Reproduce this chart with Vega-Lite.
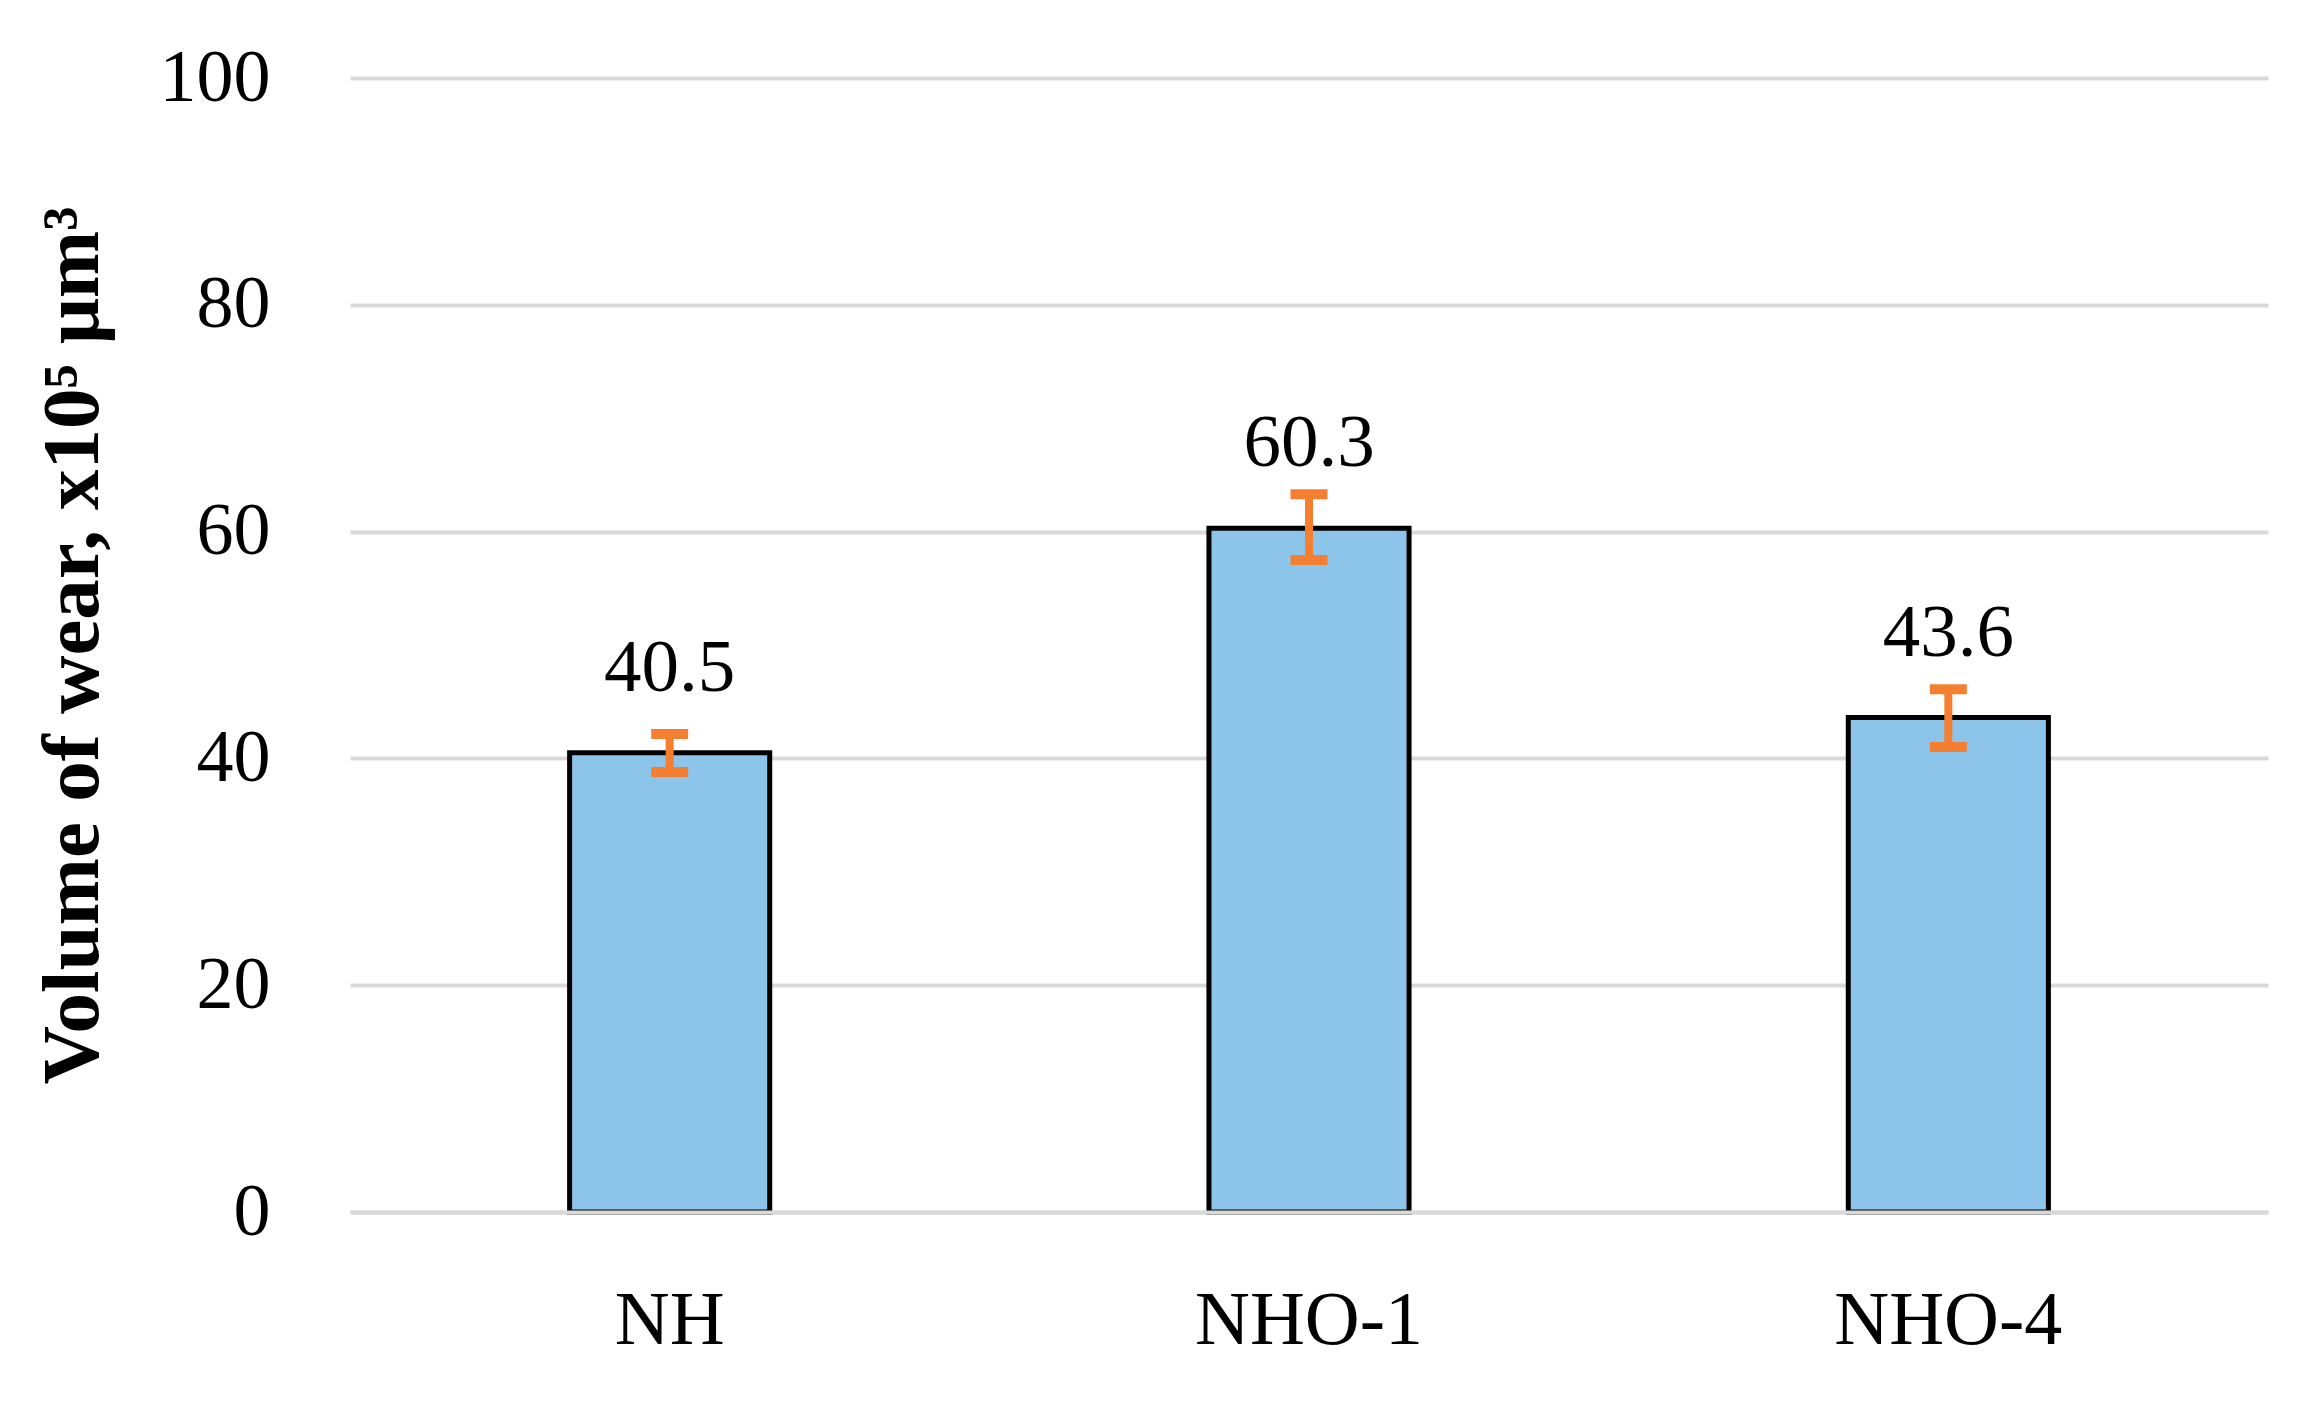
{
  "$schema": "https://vega.github.io/schema/vega-lite/v6.json",
  "autosize": {"type": "none"},
  "width": 1918,
  "height": 1134,
  "padding": {"left": 350, "top": 78, "right": 51, "bottom": 201},
  "background": "white",
  "config": {
    "view": {"stroke": null},
    "font": "Liberation Serif"
  },
  "data": {
    "values": [
      {"sample": "NH", "volume": 40.5, "low": 38.8, "high": 42.15},
      {"sample": "NHO-1", "volume": 60.3, "low": 57.5, "high": 63.3},
      {"sample": "NHO-4", "volume": 43.6, "low": 41.0, "high": 46.1}
    ]
  },
  "encoding": {
    "x": {
      "field": "sample",
      "type": "nominal",
      "sort": null,
      "scale": {"paddingInner": 0.687, "paddingOuter": 0.3435},
      "axis": {
        "title": null,
        "labelAngle": 0,
        "labelLimit": 0,
        "labelFont": "Liberation Serif",
        "labelFontSize": 76,
        "labelColor": "black",
        "labelBaseline": "alphabetic",
        "labelPadding": 131,
        "ticks": false,
        "domain": true,
        "domainColor": "#D9D9D9",
        "domainWidth": 4,
        "grid": false,
        "zindex": 1
      }
    }
  },
  "layer": [
    {
      "mark": {"type": "bar", "fill": "#8DC4E9", "stroke": "black", "strokeWidth": 5},
      "encoding": {
        "y": {
          "field": "volume",
          "type": "quantitative",
          "scale": {"domain": [0, 100]},
          "axis": {
            "values": [0, 20, 40, 60, 80, 100],
            "title": "Volume of wear, x10\u2075 \u03bcm\u00b3",
            "titleFont": "Liberation Serif",
            "titleFontSize": 81,
            "titleFontWeight": "bold",
            "titleColor": "black",
            "titlePadding": 45,
            "labelFont": "Liberation Serif",
            "labelFontSize": 74,
            "labelColor": "black",
            "labelPadding": 80,
            "ticks": false,
            "domain": false,
            "grid": true,
            "gridColor": "#D9D9D9",
            "gridWidth": 4
          }
        }
      }
    },
    {
      "mark": {"type": "rule", "color": "#F57F30", "strokeWidth": 8},
      "encoding": {
        "y": {"field": "low", "type": "quantitative"},
        "y2": {"field": "high"}
      }
    },
    {
      "mark": {"type": "tick", "color": "#F57F30", "thickness": 10, "size": 37, "opacity": 1},
      "encoding": {
        "y": {"field": "low", "type": "quantitative"}
      }
    },
    {
      "mark": {"type": "tick", "color": "#F57F30", "thickness": 10, "size": 37, "opacity": 1},
      "encoding": {
        "y": {"field": "high", "type": "quantitative"}
      }
    },
    {
      "mark": {"type": "text", "font": "Liberation Serif", "fontSize": 75, "color": "black", "baseline": "alphabetic", "align": "center", "dy": -62},
      "encoding": {
        "y": {"field": "volume", "type": "quantitative"},
        "text": {"field": "volume", "type": "quantitative", "format": ".1f"}
      }
    }
  ]
}
